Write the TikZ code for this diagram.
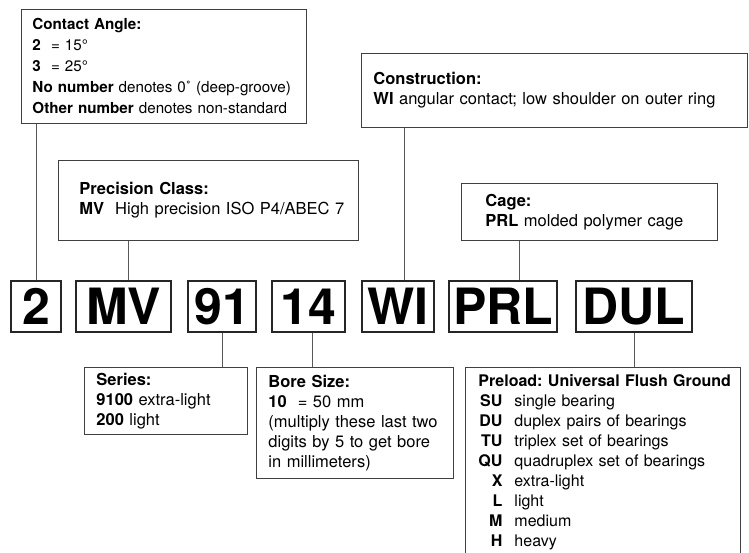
\documentclass[tikz,border=0pt]{standalone}
\usepackage{fontspec}
\setmainfont{TeX Gyre Heros}
\frenchspacing
\usetikzlibrary{positioning}
\tikzset{code box/.style={draw=black!85, line width=1.1pt, minimum height=51pt, inner sep=0pt, text height=36pt, text depth=0pt, font=\fontsize{50}{50}\selectfont\bfseries},
info box/.style={draw=black!75, line width=0.9pt, anchor=north west, align=left, inner ysep=0pt, font=\fontsize{16.5}{20}\selectfont},
link/.style={draw=black!65, line width=0.9pt},}

\begin{document}
\begin{tikzpicture}[x=1pt, y=-1pt]
        \useasboundingbox (0,0) rectangle (749,552);
        % Code
        \node[code box, minimum width=50pt] (n2) at (36,306.5) {2};
        \node[code box, minimum width=95pt] (nMV) at (123.5,306.5) {MV};
        \node[code box, minimum width=68pt] (n91) at (222,306.5) {91};
        \node[code box, minimum width=73pt] (n14) at (308.5,306.5) {14};
        \node[code box, minimum width=72pt] (nWI) at (398,306.5) {WI};
        \node[code box, minimum width=108pt] (nPRL) at (503,306.5) {PRL};
        \node[code box, minimum width=116pt] (nDUL) at (634,306.5) {DUL};
        % Upper boxes
        \node[info box, inner xsep=11pt, text width=263pt, minimum height=114pt, font=\fontsize{15.2}{21}\selectfont] (contact) at (21,9)
            {\textbf{Contact Angle:}\\ \textbf{2}\ \ = 15°\\ \textbf{3}\ \ = 25°\\ \mbox{\textbf{No number} denotes 0˚ (deep-groove)}\\ \mbox{\textbf{Other number} denotes non-standard}};
        \node[info box, inner xsep=21pt, text width=258pt, minimum height=80pt] (precision) at (58,160)
            {\textbf{Precision Class:}\\ \mbox{\textbf{MV}\ \ High precision ISO P4/ABEC 7}};
        \node[info box, inner xsep=12pt, text width=362pt, minimum height=74pt] (construction) at (361,53)
            {\textbf{Construction:}\\ \mbox{\textbf{WI} angular contact; low shoulder on outer ring}};
        \node[info box, inner xsep=24pt, text width=208pt, minimum height=57pt] (cage) at (461,183)
            {\textbf{Cage:}\\ \textbf{PRL} molded polymer cage};
        % Lower boxes
        \node[info box, inner xsep=12pt, text width=139pt, minimum height=67pt] (series) at (84,367)
            {\textbf{Series:}\\ \textbf{9100} extra-light\\ \textbf{200} light};
        \node[info box, inner xsep=12pt, text width=173pt, minimum height=111pt] (bore) at (256,367)
            {\textbf{Bore Size:}\\ \textbf{10}\ \ = 50 mm\\ \mbox{(multiply these last two}\\ digits by 5 to get bore\\ in millimeters)};
        \node[info box, inner xsep=13pt, text width=249pt, minimum height=190pt, font=\fontsize{16}{20}\selectfont] (preload) at (465,367)
            {\begin{tabular}{@{}r@{\hspace{12pt}}l@{}}
            \multicolumn{2}{@{}l@{}}{\textbf{Preload: Universal Flush Ground}}\\
            \textbf{SU} & single bearing\\
            \textbf{DU} & duplex pairs of bearings\\
            \textbf{TU} & triplex set of bearings\\
            \textbf{QU} & quadruplex set of bearings\\
            \textbf{X} & extra-light\\
            \textbf{L} & light\\
            \textbf{M} & medium\\
            \textbf{H} & heavy
            \end{tabular}};
        % Paths
        \path[link]
        (n2) edge (n2 |- contact.south)
        ([xshift=4.5pt]nMV.north) edge ([xshift=4.5pt]nMV.north |- precision.south)
        ([xshift=6pt]nWI.north) edge ([xshift=6pt]nWI.north |- construction.south)
        ([xshift=16pt]nPRL.north) edge ([xshift=16pt]nPRL.north |- cage.south)
        (n91) edge (n91 |- series.north)
        ([xshift=3.5pt]n14.south) edge ([xshift=3.5pt]n14.south |- bore.north)
        (nDUL) edge (nDUL |- preload.north);
\end{tikzpicture}
\end{document}
